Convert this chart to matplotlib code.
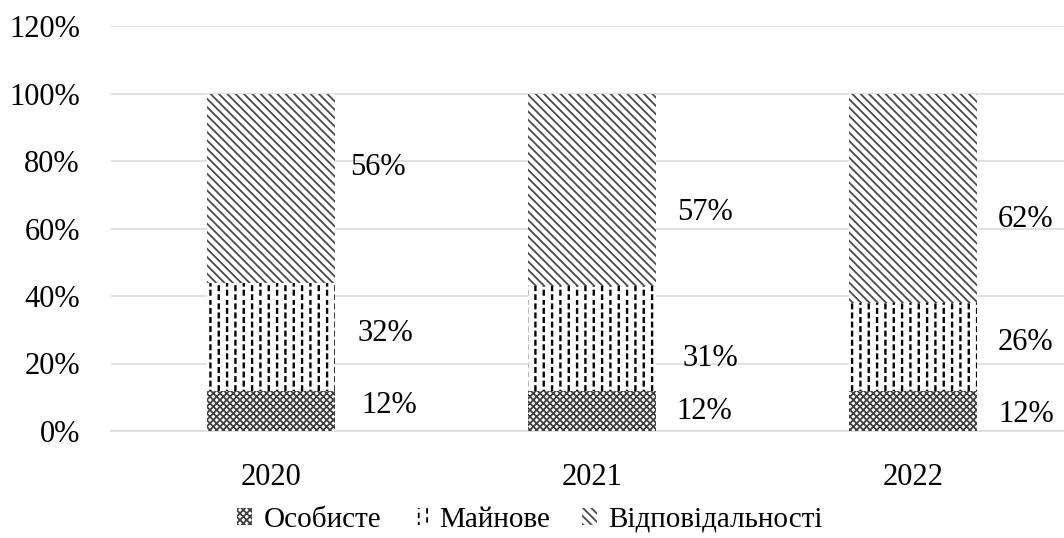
import numpy as np
import matplotlib
matplotlib.use('Agg')
import matplotlib.pyplot as plt
import matplotlib.hatch as mhatch
from matplotlib.path import Path

# data (shares, %)
years = ['2020', '2021', '2022']
personal = [12, 12, 12]        # Особисте
property_ins = [32, 31, 26]    # Майнове
liability = [56, 57, 62]       # Відповідальності
series_names = ['Особисте', 'Майнове', 'Відповідальності']

# value label shifts from the middle of each segment (x, y in axis units)
lbl_dx = [[0.283, 0.271, 0.246], [0.262, 0.283, 0.265], [0.265, 0.265, 0.265]]
lbl_dy = [[0.017, 0.010, 0.062], [-0.001, -0.059, -0.069], [-0.010, 0.011, -0.062]]


class DashHatch(mhatch.HatchPatternBase):
    # short vertical dashes, odd columns moved down by half a step
    def __init__(self, hatch, density):
        self.num_cols = int(hatch.count('|') * density)
        self.num_rows = 11 if self.num_cols else 0
        self.num_vertices = self.num_cols * self.num_rows * 2

    def set_vertices_and_codes(self, vertices, codes):
        k = 0
        for i in range(self.num_cols):
            x = (i + 0.25) / self.num_cols
            for j in range(self.num_rows):
                y0 = (j + 0.1 + 0.5 * (i % 2)) / self.num_rows
                vertices[k] = (x, y0)
                vertices[k + 1] = (x, y0 + 0.4 / self.num_rows)
                codes[k] = Path.MOVETO
                codes[k + 1] = Path.LINETO
                k += 2


# '|' gives dashes instead of full lines
for n, t in enumerate(mhatch._hatch_types):
    if t is mhatch.VerticalHatch:
        mhatch._hatch_types[n] = DashHatch


def main():
    plt.rcParams['font.family'] = ['Liberation Serif', 'DejaVu Serif']
    plt.rcParams['hatch.linewidth'] = 1.3
    fs = 22

    fig = plt.figure(figsize=(10.64, 5.38), dpi=100)
    ax = fig.add_axes([110.5 / 1064, 107 / 538, 963 / 1064, 405 / 538])

    x = np.arange(len(years))
    w = 0.40
    p = np.array(personal) / 100
    m = np.array(property_ins) / 100
    l = np.array(liability) / 100

    ax.bar(x, p, w, color='white', edgecolor='#404040', linewidth=0,
           hatch='xxxxx', label=series_names[0], zorder=3)
    b2 = ax.bar(x, m, w, bottom=p, color='white', edgecolor='black', linewidth=0,
                hatch='||', label=series_names[1], zorder=3)
    ax.bar(x, l, w, bottom=p + m, color='white', edgecolor='#4a4a4a', linewidth=0,
           hatch='\\\\\\\\', label=series_names[2], zorder=3)
    # heavier dashes
    for r in b2:
        if hasattr(r, 'set_hatch_linewidth'):
            r.set_hatch_linewidth(1.7)

    # value labels
    stacks = [personal, property_ins, liability]
    for i in range(len(years)):
        base = 0.0
        for s in range(3):
            v = stacks[s][i] / 100
            ax.text(x[i] + lbl_dx[i][s], base + v / 2 + lbl_dy[i][s],
                    '{:d}%'.format(stacks[s][i]), fontsize=fs,
                    ha='left', va='center', clip_on=False)
            base += v

    # axes
    ax.set_xlim(-0.5, 2.5)
    ax.set_ylim(0, 1.2)
    ax.set_yticks(np.arange(0, 1.21, 0.2))
    ax.set_yticklabels(['{:d}%'.format(int(round(t * 100))) for t in np.arange(0, 1.21, 0.2)])
    ax.set_xticks(x)
    ax.set_xticklabels(years)
    ax.tick_params(axis='both', length=0, labelsize=fs)
    ax.tick_params(axis='y', pad=22)
    ax.tick_params(axis='x', pad=23)
    ax.grid(axis='y', color='#d9d9d9', linewidth=1.1, zorder=0)
    for sp in ['top', 'right', 'left']:
        ax.spines[sp].set_visible(False)
    ax.spines['bottom'].set_color('#d9d9d9')
    ax.spines['bottom'].set_linewidth(1.1)

    fig.legend(loc='center', bbox_to_anchor=(530 / 1064, 1 - 520 / 538),
               ncol=3, frameon=False, fontsize=21, handlelength=0.5,
               handleheight=0.55, handletextpad=0.4, columnspacing=1.1)

    plt.savefig('out.png', dpi=100)


if __name__ == "__main__":
    main()
